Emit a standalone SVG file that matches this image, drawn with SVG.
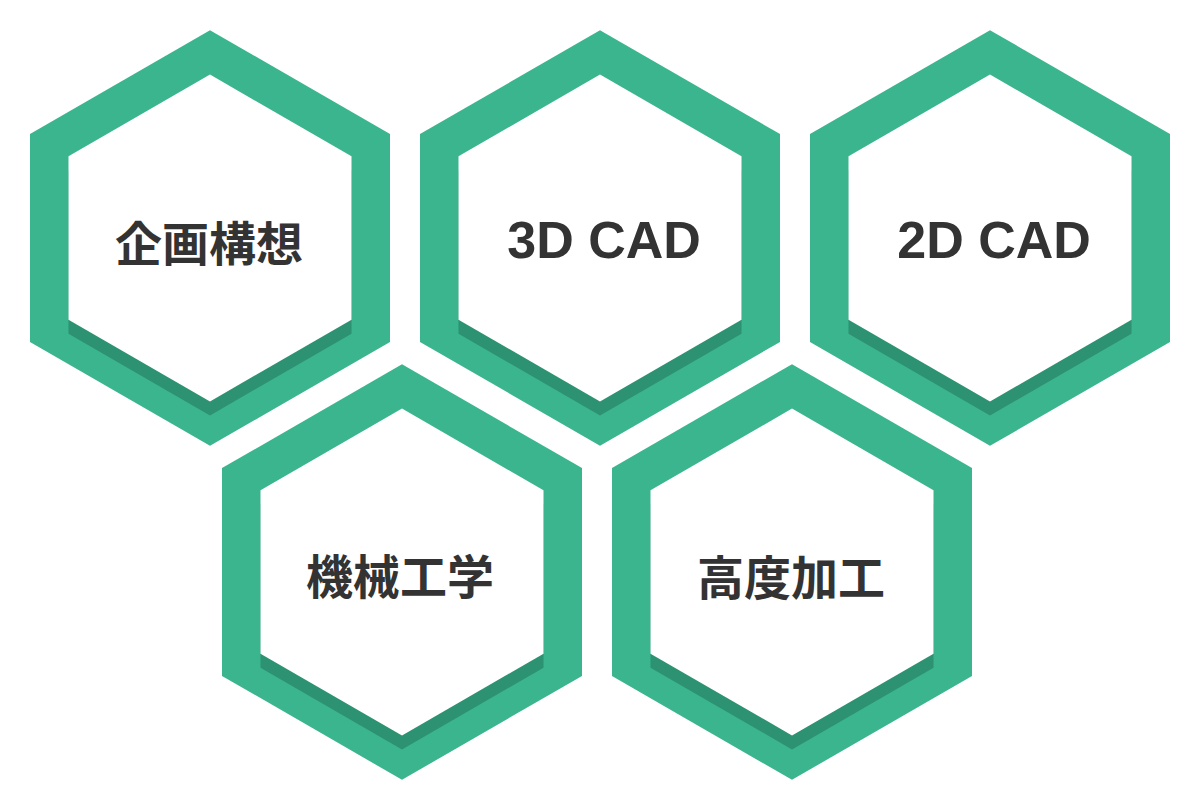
<svg xmlns="http://www.w3.org/2000/svg" xmlns:xlink="http://www.w3.org/1999/xlink" width="1200" height="810" viewBox="0 0 1200 810">
<style>
.o{fill:#3AB58E}
.s{fill:#2D9271}
.w{fill:#FFFFFF}
.t{font-family:"Noto Sans CJK JP","Noto Sans",sans-serif;font-weight:bold;fill:#333333;text-anchor:middle}
.cjk{font-size:47px;dominant-baseline:central}
.lat{font-family:"Liberation Sans",Arial,sans-serif;font-size:52px}
</style>
<defs>
<path id="outer" d="M0,-207.8 L180,-103.9 L180,103.9 L0,207.8 L-180,103.9 L-180,-103.9Z"/>
<path id="inner" d="M0,-163.4 L141.5,-81.7 L141.5,81.7 L0,163.4 L-141.5,81.7 L-141.5,-81.7Z"/>
</defs>
<rect width="1200" height="810" fill="#FFFFFF"/>
<g id="connectors"/>
<g id="n1" transform="translate(210,238)">
<use xlink:href="#outer" class="o"/><use xlink:href="#inner" y="14" class="s"/><use xlink:href="#inner" class="w"/>
<text class="t cjk" x="-1" y="2">企画構想</text>
</g>
<g id="n2" transform="translate(600,238)">
<use xlink:href="#outer" class="o"/><use xlink:href="#inner" y="14" class="s"/><use xlink:href="#inner" class="w"/>
<text class="t lat" x="4" y="20">3D CAD</text>
</g>
<g id="n3" transform="translate(990,238)">
<use xlink:href="#outer" class="o"/><use xlink:href="#inner" y="14" class="s"/><use xlink:href="#inner" class="w"/>
<text class="t lat" x="4" y="20">2D CAD</text>
</g>
<g id="n4" transform="translate(402,572)">
<use xlink:href="#outer" class="o"/><use xlink:href="#inner" y="14" class="s"/><use xlink:href="#inner" class="w"/>
<text class="t cjk" x="-2" y="1">機械工学</text>
</g>
<g id="n5" transform="translate(792,572)">
<use xlink:href="#outer" class="o"/><use xlink:href="#inner" y="14" class="s"/><use xlink:href="#inner" class="w"/>
<text class="t cjk" x="-1" y="2">高度加工</text>
</g>
</svg>
